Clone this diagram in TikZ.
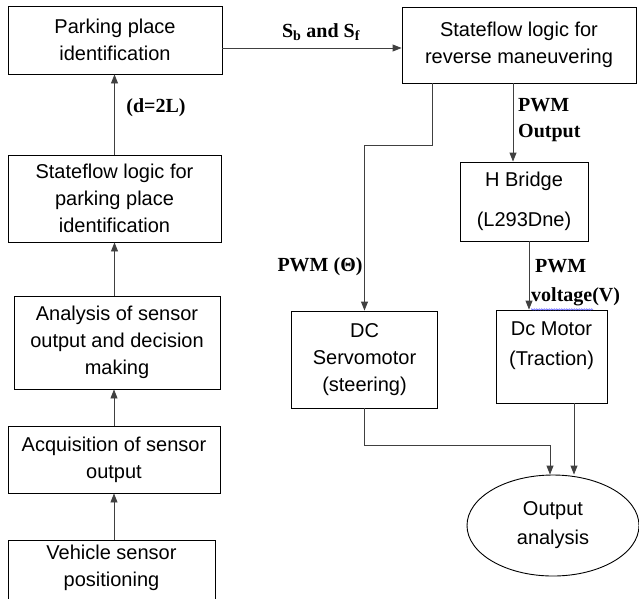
\documentclass[tikz,border=0pt]{standalone}
\usepackage{fontspec}
\setmainfont{Liberation Serif}
\newfontfamily\boxfont{Liberation Sans}
\usetikzlibrary{arrows.meta,shapes.geometric,decorations.pathmorphing}

\begin{document}
\begin{tikzpicture}[x=1pt,y=-1pt,
        blk/.style={draw,line width=0.9pt,align=center,inner sep=2pt,
            font=\boxfont\fontsize{20}{27}\selectfont},
        lbl/.style={font=\bfseries\fontsize{20}{27}\selectfont,inner sep=0pt},
        arr/.style={draw=black!75,line width=0.9pt,-{Triangle[length=9pt,width=7pt]}}]
        \useasboundingbox (0,0) rectangle (639,598);

        % 左列方框
        \node[blk,minimum width=214pt,minimum height=68pt] (park) at (115,40) {Parking place\\identification};
        \node[blk,minimum width=213pt,minimum height=87pt] (sfpark) at (114.5,198.5) {Stateflow logic for\\parking place\\identification};
        \node[blk,minimum width=206pt,minimum height=93pt] (anal) at (117,342.5) {Analysis of sensor\\output and decision\\making};
        \node[blk,minimum width=212pt,minimum height=67pt] (acq) at (114,459.5) {Acquisition of sensor\\output};
        \node[blk,minimum width=207pt,anchor=north,inner ysep=5pt,text depth=36pt] (veh) at (111.5,540) {Vehicle sensor\\positioning};

        % 右列方框
        \node[blk,minimum width=234pt,minimum height=76pt] (sfrev) at (519,45) {Stateflow logic for\\reverse maneuvering};
        \node[blk,minimum width=128pt,minimum height=79pt] (hbr) at (524,201.5) {H Bridge\\[13pt](L293Dne)};
        \node[blk,minimum width=146pt,minimum height=97pt] (servo) at (364.5,359.5) {DC\\Servomotor\\(steering)};
        \node[blk,minimum width=111pt,minimum height=93pt,text depth=26pt] (motor) at (551.5,356.5) {Dc Motor\\[3pt](Traction)};
        \node[blk,ellipse,minimum width=172pt,minimum height=101pt] (out) at (553,525.5) {Output\\[2pt]analysis};

        % 折点
        \coordinate (bendS) at (364.5,145);
        \coordinate (bendO) at (550,445);

        % 连线
        \draw[arr] (veh.north -| acq) -- (acq.south);
        \draw[arr] (acq.north) -- (acq.north |- anal.south);
        \draw[arr] (anal.north -| sfpark) -- (sfpark.south);
        \draw[arr] (sfpark.north) -- (sfpark.north |- park.south);
        \draw[arr] ([yshift=-8pt]park.east) -- ([yshift=-8pt]park.east -| sfrev.west);
        \draw[arr] ([xshift=-87pt]sfrev.south) |- (bendS) -- (servo.north);
        \draw[arr] ([xshift=-6pt]sfrev.south) -- ([xshift=-6pt]sfrev.south |- hbr.north);
        \draw[arr] ([xshift=5pt]hbr.south) -- ([xshift=5pt]hbr.south |- motor.north);
        \draw[arr] (servo.south) |- (bendO) -- (bendO |- out.north);
        \draw[arr] ([xshift=22.5pt]motor.south) -- ([xshift=22.5pt]motor.south |- out.north);

        % 标注
        \node[lbl] (dlen) at (156,108) {(d=2L)};
        \node[lbl] (sbsf) at (321,32) {S\textsubscript{b} and S\textsubscript{f}};
        \node[lbl,align=left,anchor=west] (pwmout) at (518,120) {PWM\\[-1pt]Output};
        \node[lbl] (pwmth) at (320,267) {PWM (Θ)};
        \node[lbl,align=left,anchor=west] (pwmv) at (531,283) {\hspace{4pt}PWM\\[2pt]voltage(V)};
        \draw[blue!70,line width=0.5pt,decorate,decoration={snake,amplitude=0.7pt,segment length=2.5pt}]
            ([yshift=-3pt]pwmv.south west) -- ++(62,0);
\end{tikzpicture}
\end{document}
